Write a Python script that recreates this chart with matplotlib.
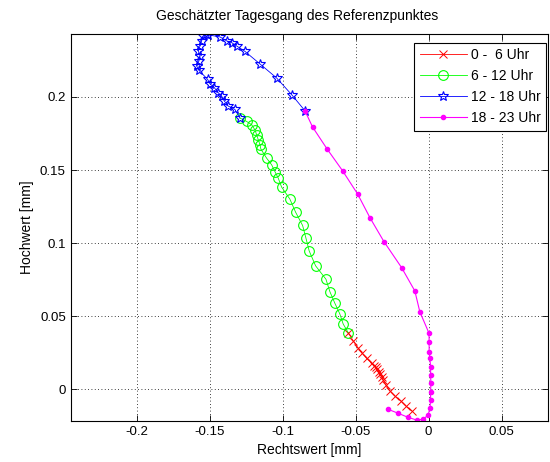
import matplotlib
matplotlib.use("Agg")
import matplotlib.pyplot as plt
from matplotlib.ticker import FixedLocator, FuncFormatter

plt.rcParams['font.family'] = ['Liberation Sans', 'DejaVu Sans']

# 0 - 6 Uhr
red_x = [-0.0116, -0.0155, -0.0192, -0.0231, -0.0265, -0.0292, -0.0311, -0.0322,
         -0.0334, -0.0342, -0.0352, -0.0361, -0.0373, -0.0390, -0.0425, -0.0455,
         -0.0482, -0.0516, -0.0551]
red_y = [-0.0147, -0.0114, -0.0078, -0.0046, -0.0010, 0.0029, 0.0064, 0.0086,
         0.0105, 0.0120, 0.0137, 0.0151, 0.0162, 0.0178, 0.0212, 0.0247,
         0.0281, 0.0331, 0.0388]

# 6 - 12 Uhr
green_x = [-0.0551, -0.0585, -0.0608, -0.0642, -0.0676, -0.0703, -0.0774, -0.0818,
           -0.0840, -0.0863, -0.0911, -0.0950, -0.1007, -0.1030, -0.1053, -0.1075,
           -0.1110, -0.1149, -0.1155, -0.1167, -0.1178, -0.1190, -0.1212, -0.1247,
           -0.1292]
green_y = [0.0388, 0.0447, 0.0516, 0.0589, 0.0668, 0.0753, 0.0845, 0.0947,
           0.1034, 0.1121, 0.1212, 0.1301, 0.1384, 0.1445, 0.1490, 0.1536,
           0.1582, 0.1644, 0.1674, 0.1708, 0.1742, 0.1776, 0.1810, 0.1833,
           0.1856]

# 12 - 18 Uhr
blue_x = [-0.1292, -0.1327, -0.1373, -0.1400, -0.1418, -0.1441, -0.1468, -0.1498,
          -0.1514, -0.1573, -0.1589, -0.1573, -0.1566, -0.1578, -0.1566, -0.1555,
          -0.1544, -0.1527, -0.1510, -0.1429, -0.1384, -0.1349, -0.1315, -0.1258,
          -0.1155, -0.1041, -0.0938, -0.0847]
blue_y = [0.1856, 0.1915, 0.1938, 0.1973, 0.2007, 0.2029, 0.2064, 0.2091,
          0.2121, 0.2182, 0.2212, 0.2247, 0.2281, 0.2315, 0.2349, 0.2384,
          0.2418, 0.2434, 0.2425, 0.2411, 0.2384, 0.2372, 0.2349, 0.2312,
          0.2226, 0.2130, 0.2016, 0.1906]

# 18 - 23 Uhr
mag_x = [-0.0847, -0.0795, -0.0695, -0.0589, -0.0486, -0.0402, -0.0306, -0.0185,
         -0.0094, -0.0060, 0.0003, 0.0004, 0.0004, 0.0009, 0.0014, 0.0014,
         0.0016, 0.0014, 0.0014, 0.0009, -0.0003, -0.0037, -0.0082, -0.0140,
         -0.0208, -0.0277]
mag_y = [0.1906, 0.1795, 0.1644, 0.1495, 0.1336, 0.1175, 0.1011, 0.0833,
         0.0673, 0.0531, 0.0384, 0.0326, 0.0258, 0.0212, 0.0155, 0.0098,
         0.0041, -0.0016, -0.0073, -0.0130, -0.0176, -0.0205, -0.0210, -0.0192,
         -0.0164, -0.0137]

labels = ['0 -  6 Uhr', '6 - 12 Uhr', '12 - 18 Uhr', '18 - 23 Uhr']
x_ticks = [-0.2, -0.15, -0.1, -0.05, 0, 0.05]
y_ticks = [0, 0.05, 0.1, 0.15, 0.2]

fig = plt.figure(figsize=(5.5, 4.62), dpi=100)
ax = fig.add_axes([0.1285, 0.0887, 0.8675, 0.8371])

ax.plot(red_x, red_y, '-', color='red', marker='x', ms=5.5, mew=0.7, lw=0.6, label=labels[0])
ax.plot(green_x, green_y, '-', color='#00ff00', marker='o', ms=7, mfc='none', mew=0.8, lw=0.6, label=labels[1])
ax.plot(blue_x, blue_y, '-', color='blue', marker='*', ms=7.5, mfc='none', mew=0.8, lw=0.6, label=labels[2])
ax.plot(mag_x, mag_y, '-', color='magenta', marker='.', ms=6, lw=0.8, label=labels[3])

ax.set_xlim(-0.2452, 0.0817)
ax.set_ylim(-0.0217, 0.2429)
ax.xaxis.set_major_locator(FixedLocator(x_ticks))
ax.yaxis.set_major_locator(FixedLocator(y_ticks))
fmt = FuncFormatter(lambda v, p: '%g' % round(v, 4))
ax.xaxis.set_major_formatter(fmt)
ax.yaxis.set_major_formatter(fmt)
ax.tick_params(direction='in', top=True, right=True, length=4, width=0.6, labelsize=9.5)
ax.grid(True, color='black', linestyle=(0, (1, 3)), linewidth=0.6)
for s in ax.spines.values():
    s.set_linewidth(0.8)

ax.set_xlabel('Rechtswert [mm]', fontsize=10)
ax.set_ylabel('Hochwert [mm]', fontsize=10)
fig.text(0.541, 0.965, 'Geschätzter Tagesgang des Referenzpunktes', ha='center', va='center', fontsize=10)

leg = ax.legend(loc='upper right', bbox_to_anchor=(0.997, 0.978), borderaxespad=0,
                fontsize=10, handlelength=3.4, handletextpad=0.3, labelspacing=0.5,
                fancybox=False, framealpha=1, edgecolor='black', borderpad=0.4)
leg.get_frame().set_linewidth(0.8)

fig.savefig('out.png', dpi=100)
